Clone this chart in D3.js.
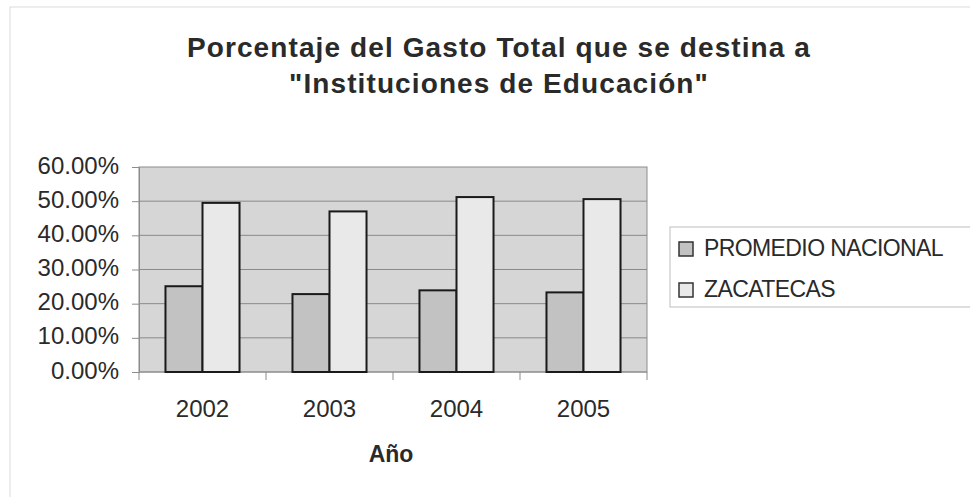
<!DOCTYPE html>
<html>
<head>
<meta charset="utf-8">
<script src="https://cdn.jsdelivr.net/npm/d3@7"></script>
<style>
body { margin:0; background:#fff; }
text { font-family: "Liberation Sans", Arial, sans-serif; fill:#2a2a2a; }
</style>
</head>
<body>
<svg id="chart"></svg>
<script>
// data
var years = ["2002", "2003", "2004", "2005"];
var seriesNames = ["PROMEDIO NACIONAL", "ZACATECAS"];
var promedio = [0.251, 0.228, 0.239, 0.233];
var zacatecas = [0.495, 0.470, 0.512, 0.506];
var yTicks = [0, 0.1, 0.2, 0.3, 0.4, 0.5, 0.6];
var titleLines = ["Porcentaje del Gasto Total que se destina a", "\"Instituciones de Educación\""];
var xTitle = "Año";

var colors = {"PROMEDIO NACIONAL": "#c2c2c2", "ZACATECAS": "#e9e9e9"};

var screen = {width:970, height:497};
var plot = {left:139, top:167, right:647, bottom:372};

var svg = d3.select("#chart")
    .attr("width", screen.width)
    .attr("height", screen.height);

// faint outer frame
svg.append("rect")
    .attr("x", 10).attr("y", 7)
    .attr("width", 980).attr("height", 520)
    .attr("fill", "none")
    .attr("stroke", "#dcdcdc");

var rows = years.map(function(y, i){
    return {year:y, values:[
        {name:seriesNames[0], value:promedio[i]},
        {name:seriesNames[1], value:zacatecas[i]}
    ]};
});

var xScale = d3.scaleBand()
    .domain(years)
    .range([plot.left, plot.right])
    .paddingInner(0.417)
    .paddingOuter(0.2085);
var xInner = d3.scaleBand()
    .domain(seriesNames)
    .range([0, xScale.bandwidth()]);
var yScale = d3.scaleLinear()
    .domain([0, 0.6])
    .range([plot.bottom, plot.top]);

// plot area
svg.append("rect")
    .attr("x", plot.left).attr("y", plot.top)
    .attr("width", plot.right-plot.left)
    .attr("height", plot.bottom-plot.top)
    .attr("fill", "#d6d6d6")
    .attr("stroke", "#8c8c8c");

//gridlines
svg.append("g")
    .selectAll("line")
    .data(yTicks.slice(1, -1))
    .enter()
    .append("line")
    .attr("x1", plot.left).attr("x2", plot.right)
    .attr("y1", function(d){return yScale(d)})
    .attr("y2", function(d){return yScale(d)})
    .attr("stroke", "#8a8a8a");

// y axis
var yAxis = d3.axisLeft(yScale)
    .tickValues(yTicks)
    .tickSize(7)
    .tickPadding(13)
    .tickFormat(function(d){return (d*100).toFixed(2)+"%"});
var ya = svg.append("g")
    .attr("transform", "translate("+plot.left+",0)")
    .call(yAxis);
ya.select(".domain").attr("stroke", "#8c8c8c");
ya.selectAll(".tick line").attr("stroke", "#8c8c8c");
ya.selectAll("text")
    .attr("font-size", 24)
    .attr("dy", "0.25em")
    .attr("font-family", "Liberation Sans, Arial, sans-serif")
    .attr("fill", "#2a2a2a");

// x axis: ticks between categories
var xa = svg.append("g")
    .attr("transform", "translate(0,"+plot.bottom+")");
xa.append("line")
    .attr("x1", plot.left).attr("x2", plot.right)
    .attr("stroke", "#8c8c8c");
var step = xScale.step();
xa.selectAll("line.tk")
    .data(years.concat(["end"]))
    .enter()
    .append("line")
    .attr("class", "tk")
    .attr("x1", function(d, i){return plot.left + i*step})
    .attr("x2", function(d, i){return plot.left + i*step})
    .attr("y1", 0).attr("y2", 8)
    .attr("stroke", "#8c8c8c");
xa.selectAll("text")
    .data(years)
    .enter()
    .append("text")
    .text(function(d){return d})
    .attr("x", function(d){return xScale(d) + xScale.bandwidth()/2})
    .attr("y", 45)
    .attr("text-anchor", "middle")
    .attr("font-size", 24);

// bars
var groups = svg.append("g")
    .selectAll("g")
    .data(rows)
    .enter()
    .append("g")
    .attr("transform", function(d){return "translate("+xScale(d.year)+",0)"});
groups.selectAll("rect")
    .data(function(d){return d.values})
    .enter()
    .append("rect")
    .attr("x", function(d){return xInner(d.name)})
    .attr("width", xInner.bandwidth())
    .attr("y", function(d){return yScale(d.value)})
    .attr("height", function(d){return plot.bottom - yScale(d.value)})
    .attr("fill", function(d){return colors[d.name]})
    .attr("stroke", "#1a1a1a")
    .attr("stroke-width", 2);

// title
svg.append("g")
    .selectAll("text")
    .data(titleLines)
    .enter()
    .append("text")
    .text(function(d){return d})
    .attr("x", 499)
    .attr("y", function(d, i){return 57 + i*36})
    .attr("text-anchor", "middle")
    .attr("font-size", 28)
    .attr("letter-spacing", 1.1)
    .attr("font-weight", "bold")
    .attr("fill", "#1e1e1e");

// x axis title
svg.append("text")
    .text(xTitle)
    .attr("x", 391)
    .attr("y", 462)
    .attr("text-anchor", "middle")
    .attr("font-size", 23)
    .attr("font-weight", "bold");

// legend
var legend = svg.append("g");
legend.append("rect")
    .attr("x", 670).attr("y", 227)
    .attr("width", 320).attr("height", 80)
    .attr("fill", "#fff")
    .attr("stroke", "#bdbdbd");
var items = legend.selectAll("g.item")
    .data(seriesNames)
    .enter()
    .append("g")
    .attr("class", "item")
    .attr("transform", function(d, i){return "translate(679,"+(242 + i*41)+")"});
items.append("rect")
    .attr("width", 14).attr("height", 14)
    .attr("fill", function(d){return colors[d]})
    .attr("stroke", "#333")
    .attr("stroke-width", 1.5);
items.append("text")
    .text(function(d){return d})
    .attr("x", 25)
    .attr("y", 14)
    .attr("font-size", 23)
    .attr("letter-spacing", -0.6);
</script>
</body>
</html>
